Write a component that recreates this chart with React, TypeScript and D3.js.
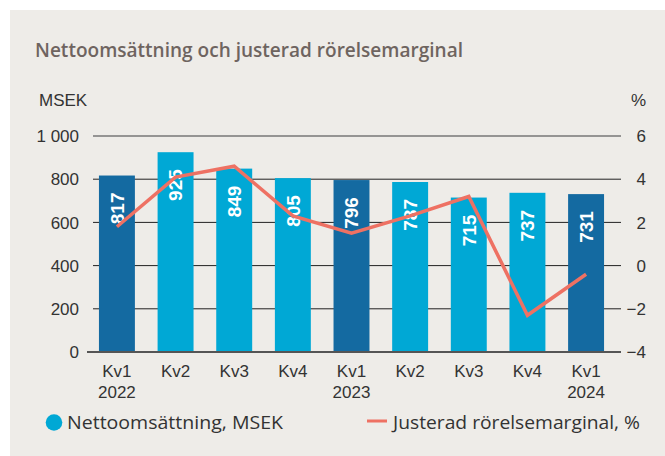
import React from "react";
import * as d3 from "d3";

const categories = ["Kv1", "Kv2", "Kv3", "Kv4", "Kv1", "Kv2", "Kv3", "Kv4", "Kv1"];
const years = ["2022", "", "", "", "2023", "", "", "", "2024"];
const sales = [817, 925, 849, 805, 796, 787, 715, 737, 731];
const margin = [1.8, 4.1, 4.6, 2.3, 1.5, 2.3, 3.2, -2.3, -0.4];
const leftTicks = [0, 200, 400, 600, 800, 1000];
const rightTicks = [-4, -2, 0, 2, 4, 6];

const DARK = "#146AA1";
const LIGHT = "#00A8D5";
const LINE = "#EE7163";

export default function App() {
  const W = 665, H = 456;
  const x = d3.scaleBand<number>().domain(d3.range(categories.length)).range([87.6, 615.4]).paddingInner(0.387).paddingOuter(0.1935);
  const yL = d3.scaleLinear().domain([0, 1000]).range([352, 136]);
  const yR = d3.scaleLinear().domain([-4, 6]).range([352, 136]);
  const cx = (i: number) => (x(i) as number) + x.bandwidth() / 2;
  const line = d3.line<number>().x((_, i) => cx(i)).y((d) => yR(d));
  const fmtL = (v: number) => (v >= 1000 ? d3.format(",")(v).replace(",", " ") : String(v));
  const fmtR = (v: number) => (v < 0 ? "\u2212" + Math.abs(v) : String(v));
  const tickFont = "'Liberation Sans', Arial, sans-serif";
  const uiFont = "'Open Sans', Lato, sans-serif";
  const tickSize = 17;

  return (
    <svg width={W} height={H} style={{ position: "absolute", left: 0, top: 0 }}>
      <rect x={0} y={0} width={W} height={H} fill="#ffffff" />
      <rect x={10} y={10} width={W - 10} height={H - 10} fill="#EEECE8" />
      <text x={35} y={57} fontFamily={uiFont} fontWeight={600} fontSize={19} fill="#6E6460"
        textLength={428} lengthAdjust="spacingAndGlyphs">
        Nettoomsättning och justerad rörelsemarginal
      </text>
      <text x={39} y={106} fontFamily={tickFont} fontSize={tickSize} fill="#333">MSEK</text>
      <text x={646} y={106} textAnchor="end" fontFamily={tickFont} fontSize={tickSize} fill="#333">%</text>

      {leftTicks.filter((t) => t > 0).map((t) => (
        <line key={"g" + t} x1={93} x2={621} y1={yL(t)} y2={yL(t)}
          stroke={t === 1000 ? "#777" : "#222"} strokeWidth={t === 1000 ? 1.5 : 1} />
      ))}
      {leftTicks.map((t) => (
        <text key={"l" + t} x={79} y={yL(t)} dy="0.36em" textAnchor="end" fontFamily={tickFont} fontSize={tickSize} fill="#333">
          {fmtL(t)}
        </text>
      ))}
      {rightTicks.map((t) => (
        <text key={"r" + t} x={646} y={yR(t)} dy="0.36em" textAnchor="end" fontFamily={tickFont} fontSize={tickSize} fill="#333">
          {fmtR(t)}
        </text>
      ))}

      {sales.map((v, i) => (
        <rect key={"b" + i} x={x(i)} y={yL(v)} width={x.bandwidth()} height={yL(0) - yL(v)} fill={categories[i] === "Kv1" ? DARK : LIGHT} />
      ))}
      {sales.map((v, i) => (
        <text key={"v" + i} transform={`translate(${cx(i)},${yL(v) + 17}) rotate(-90)`} textAnchor="end" dy="0.36em"
          fontFamily="'Liberation Sans', Arial, sans-serif" fontWeight={700} fontSize={19} fill="#fff">
          {v}
        </text>
      ))}
      <line x1={87} x2={621} y1={yL(0)} y2={yL(0)} stroke="#555" strokeWidth={2} />
      <path d={line(margin) || ""} fill="none" stroke={LINE} strokeWidth={3.5} strokeLinejoin="miter" />

      {categories.map((c, i) => (
        <g key={"x" + i}>
          <text x={cx(i)} y={377} textAnchor="middle" fontFamily={tickFont} fontSize={tickSize} fill="#333">{c}</text>
          {years[i] && (
            <text x={cx(i)} y={398} textAnchor="middle" fontFamily={tickFont} fontSize={tickSize} fill="#333">{years[i]}</text>
          )}
        </g>
      ))}

      <circle cx={54} cy={422.5} r={8.3} fill={LIGHT} />
      <text x={67} y={429} fontFamily={uiFont} fontSize={18} fill="#333" textLength={216} lengthAdjust="spacingAndGlyphs">
        Nettoomsättning, MSEK
      </text>
      <line x1={367} x2={387} y1={421} y2={421} stroke={LINE} strokeWidth={3} />
      <text x={393} y={428.5} fontFamily={uiFont} fontSize={18} fill="#333" textLength={247} lengthAdjust="spacingAndGlyphs">
        Justerad rörelsemarginal, %
      </text>
    </svg>
  );
}
